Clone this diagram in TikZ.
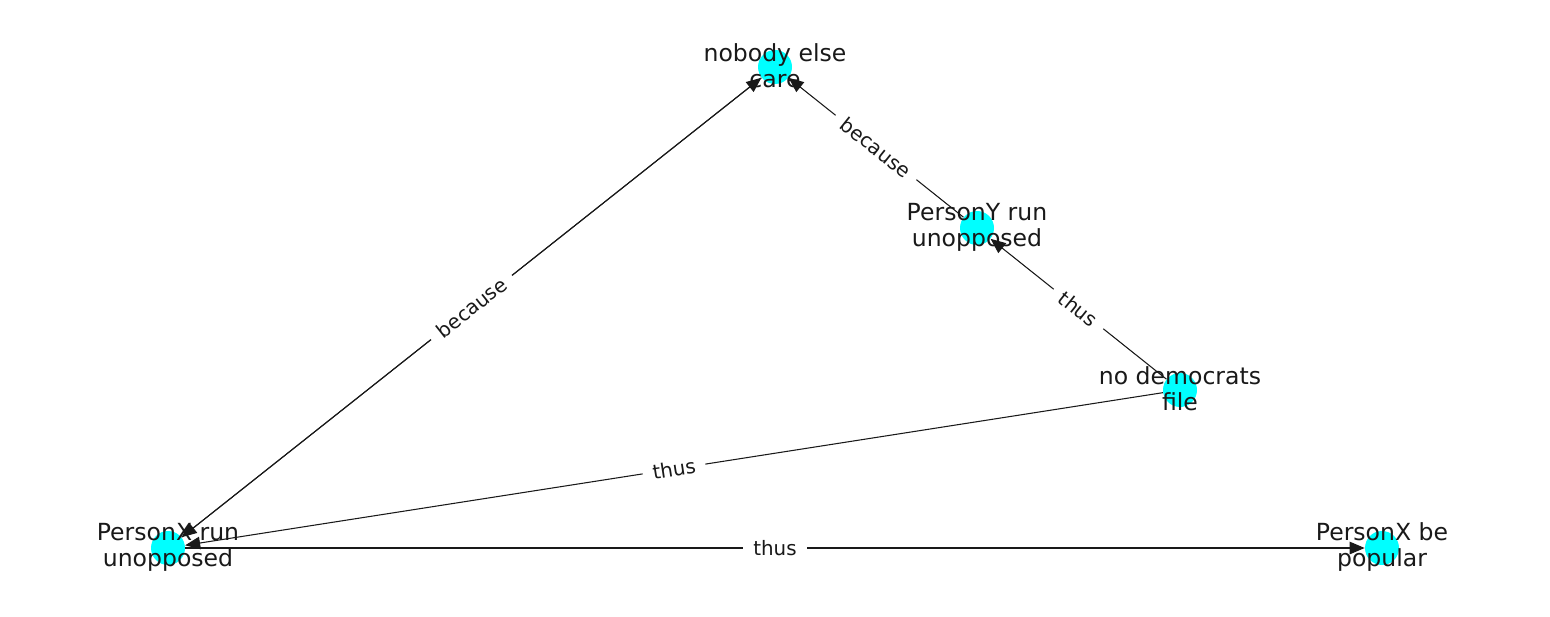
\documentclass[tikz,border=0pt]{standalone}
\usepackage{fontspec}
\setmainfont{DejaVu Sans}
\usetikzlibrary{positioning,arrows.meta}
\definecolor{nodecyan}{HTML}{00FFFF}

\begin{document}
\begin{tikzpicture}[on grid,
  dot/.style={circle, fill=nodecyan, minimum size=0.68cm, inner sep=0pt},
  nodetext/.style={align=center, yshift=0.02cm, text=black!90, font=\fontsize{13.4}{14.8}\selectfont},
  elbl/.style={fill=white, inner xsep=0.2cm, inner ysep=0.08cm, text=black!90, font=\fontsize{11.3}{12}\selectfont},
  rel/.style={-{Triangle[length=0.3cm,width=0.25cm]}, black!90, line width=0.6pt}]
\useasboundingbox (0,0) rectangle (31,12.32);
\node[dot] (x) at (3.36,1.36) {};
\node[dot, right=24.28cm of x] (pop) {};
\node[dot, above right=9.62cm and 12.14cm of x] (care) {};
\node[dot, below right=3.22cm and 4.04cm of care] (y) {};
\node[dot, below right=3.24cm and 4.06cm of y] (nodem) {};
% relations
\draw[rel] (care) -- (x);
\draw[rel] (x) -- node[elbl, sloped] {because} (care);
\draw[rel] (y) -- node[elbl, sloped] {because} (care);
\draw[rel] (nodem) -- node[elbl, sloped] {thus} (y);
\draw[rel] (nodem) -- node[elbl, sloped] {thus} (x);
\draw[rel] (x) -- node[elbl] {thus} (pop);
% texts
\node[nodetext] at (x) {PersonX run\\unopposed};
\node[nodetext] at (pop) {PersonX be\\popular};
\node[nodetext] at (care) {nobody else\\care};
\node[nodetext] at (y) {PersonY run\\unopposed};
\node[nodetext] at (nodem) {no democrats\\file};
\end{tikzpicture}
\end{document}
